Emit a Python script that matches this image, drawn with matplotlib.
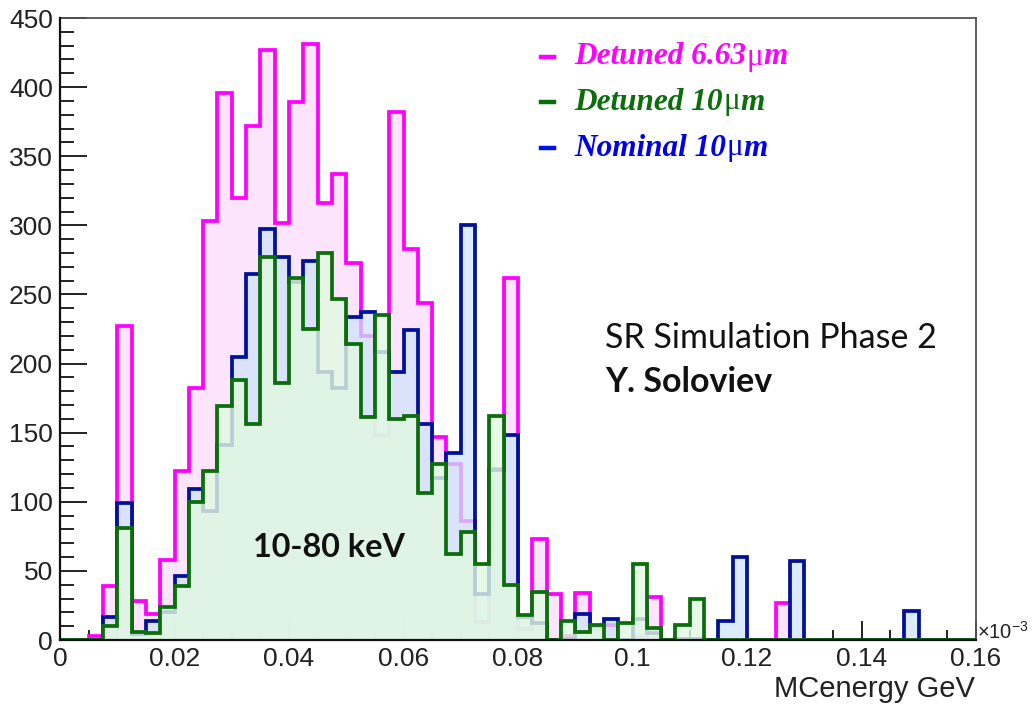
import numpy as np
import matplotlib
matplotlib.use('Agg')
import matplotlib.pyplot as plt
from matplotlib.ticker import MultipleLocator, FixedLocator, FixedFormatter
from matplotlib.lines import Line2D

# ---------------- data (counts per 0.0025 GeV bin, 0 .. 0.16 GeV) ----------------
bin_width = 0.0025
detuned_663 = [0, 0, 3, 39, 227, 28, 19, 58, 122, 182,
               303, 396, 320, 372, 427, 302, 389, 431, 316, 337,
               273, 220, 148, 382, 283, 244, 147, 127, 86, 13,
               124, 262, 8, 73, 33, 3, 34, 8, 11, 0,
               2, 31, 0, 0, 0, 0, 0, 0, 0, 0,
               27, 0, 0, 0, 0, 0, 0, 0, 0, 0,
               0, 0, 0, 0]
nominal_10 = [0, 0, 0, 17, 99, 4, 14, 20, 46, 109,
              93, 141, 205, 265, 297, 277, 259, 274, 194, 182,
              234, 237, 208, 194, 224, 156, 117, 135, 300, 33,
              123, 148, 17, 12, 0, 1, 19, 10, 15, 0,
              15, 5, 0, 1, 1, 0, 14, 60, 0, 0,
              0, 57, 0, 0, 0, 0, 0, 0, 0, 21,
              0, 0, 0, 0]
detuned_10 = [0, 0, 0, 10, 81, 6, 5, 24, 39, 100,
              122, 169, 188, 156, 277, 186, 262, 225, 280, 247,
              214, 161, 235, 160, 162, 106, 127, 62, 78, 55,
              162, 40, 18, 35, 0, 14, 6, 11, 0, 12,
              55, 9, 0, 11, 30, 0, 0, 0, 0, 0,
              0, 0, 0, 0, 0, 0, 0, 0, 0, 0,
              0, 0, 0, 0]

series_names = ['Detuned 6.63', 'Detuned 10', 'Nominal 10']
unit_mu = '\u03bc'
unit_m = 'm'
x_ticks = [0, 0.02, 0.04, 0.06, 0.08, 0.1, 0.12, 0.14, 0.16]
x_tick_labels = ['0', '0.02', '0.04', '0.06', '0.08', '0.1', '0.12', '0.14', '0.16']
y_ticks = [0, 50, 100, 150, 200, 250, 300, 350, 400, 450]

# ---------------- styling ----------------
plt.rcParams['font.family'] = ['Liberation Sans', 'DejaVu Sans']
plt.rcParams['mathtext.fontset'] = 'custom'
plt.rcParams['mathtext.rm'] = 'Liberation Sans'
plt.rcParams['mathtext.it'] = 'Liberation Sans:italic'

W, H = 1035, 705
fig = plt.figure(figsize=(W / 100, H / 100), dpi=100)
fig.patch.set_facecolor('white')


def fx(px):
    return px / W


def fy(py):
    return 1 - py / H


ax = fig.add_axes([fx(60), fy(640), fx(976) - fx(60), fy(18) - fy(640)])

edges = np.arange(len(detuned_663) + 1) * bin_width

mag_line, mag_fill = '#ff00ff', '#fbdcfb'
blu_line, blu_fill = '#001199', '#d0e3fb'
grn_line, grn_fill = '#0b6e0b', '#e2f9e2'

order = [(detuned_663, mag_line, mag_fill, 0.75),
         (nominal_10, blu_line, blu_fill, 0.75),
         (detuned_10, grn_line, grn_fill, 0.82)]
z = 2
for vals, lc, fc, al in order:
    ax.stairs(vals, edges, fill=True, color=fc, alpha=al, baseline=0, zorder=z)
    ax.stairs(vals, edges, color=lc, linewidth=2.7, baseline=0, zorder=z + 0.5)
    z += 1

ax.set_xlim(0, 0.16)
ax.set_ylim(0, 450)

ax.xaxis.set_major_locator(FixedLocator(x_ticks))
ax.xaxis.set_major_formatter(FixedFormatter(x_tick_labels))
ax.xaxis.set_minor_locator(MultipleLocator(0.005))
ax.yaxis.set_major_locator(FixedLocator(y_ticks))
ax.yaxis.set_minor_locator(MultipleLocator(10))

ax.tick_params(axis='both', which='both', direction='in', top=False, right=False,
               colors='#111111', labelcolor='#222222', labelsize=19, width=1.3)
ax.tick_params(axis='y', which='major', length=19.5, pad=5)
ax.tick_params(axis='y', which='minor', length=10)
ax.tick_params(axis='x', which='major', length=14, pad=5)
ax.tick_params(axis='x', which='minor', length=7)
for lab in ax.get_xticklabels() + ax.get_yticklabels():
    lab.set_zorder(10)
for side in ['left', 'bottom']:
    ax.spines[side].set_linewidth(1.6)
    ax.spines[side].set_color('#111111')
    ax.spines[side].set_zorder(20)
for side in ['top', 'right']:
    ax.spines[side].set_linewidth(1.3)
    ax.spines[side].set_color('#555555')

# x-axis label and exponent
fig.text(fx(975), fy(697), 'MCenergy GeV', ha='right', va='baseline', fontsize=21, color='#222222')
fig.text(fx(977), fy(632), r'$\times10^{-3}$', ha='left', va='center', fontsize=14.5, color='#222222')

# legend (ROOT-style)
leg_colors = [mag_line, grn_line, '#0011ee']
leg_text_colors = ['#ff00ff', '#0b6e0b', '#0000ee']
leg_y = [57, 102, 148]
serif = ['Liberation Serif', 'DejaVu Serif']
for name, lc, tc, yy in zip(series_names, leg_colors, leg_text_colors, leg_y):
    fig.add_artist(Line2D([fx(541), fx(554)], [fy(yy), fy(yy)], color=lc, linewidth=3.2,
                          transform=fig.transFigure))
    t1 = fig.text(fx(574), fy(yy), name, ha='left', va='center', fontsize=22.5, color=tc,
                  family=serif, style='italic', weight='bold')
    fig.canvas.draw()
    bb = t1.get_window_extent()
    t2 = fig.text(bb.x1 / W + fx(1), fy(yy), unit_mu, ha='left', va='center', fontsize=22.5,
                  color=tc, family=serif, style='normal', weight='normal')
    fig.canvas.draw()
    bb2 = t2.get_window_extent()
    fig.text(bb2.x1 / W, fy(yy), unit_m, ha='left', va='center', fontsize=22.5, color=tc,
             family=serif, style='italic', weight='bold')

# annotations
sans2 = ['Lato', 'DejaVu Sans']
fig.text(fx(605), fy(348), 'SR Simulation Phase 2', ha='left', va='baseline', fontsize=24.5,
         family=sans2, color='#111111')
fig.text(fx(605), fy(392), 'Y. Soloviev', ha='left', va='baseline', fontsize=24.5,
         family=sans2, weight='bold', color='#111111')
fig.text(fx(253), fy(557), '10-80 keV', ha='left', va='baseline', fontsize=23.3,
         family=sans2, weight='bold', color='#111111')

fig.savefig('out.png', dpi=100, facecolor='white')
